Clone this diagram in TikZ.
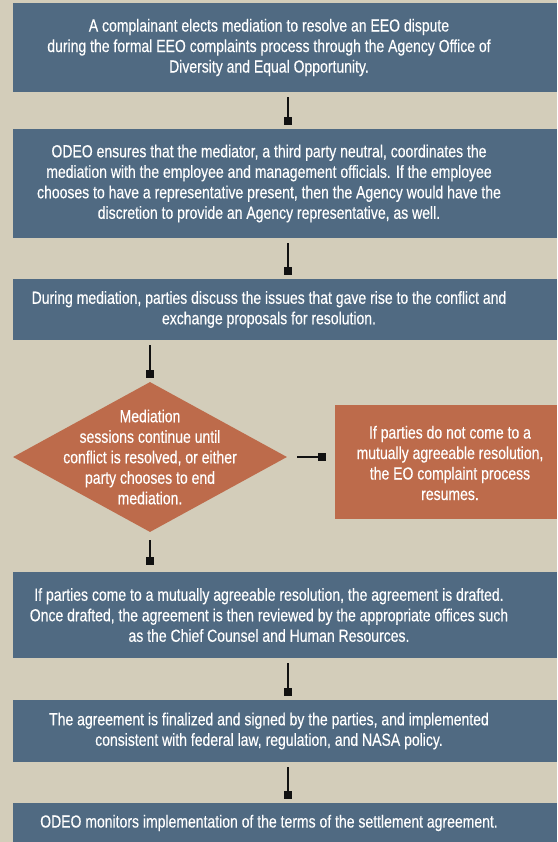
\documentclass[tikz,border=0pt]{standalone}
\usepackage{fontspec}
\setmainfont[FakeStretch=0.8,FakeBold=0.3]{Liberation Sans}
\usetikzlibrary{arrows.meta,shapes.geometric}
\definecolor{bg}{HTML}{D3CDBA}
\definecolor{blu}{HTML}{506A82}
\definecolor{org}{HTML}{BD6B4B}
\definecolor{ink}{HTML}{111111}
\begin{document}
\begin{tikzpicture}[x=1pt,y=-1pt,
  box/.style={fill=blu, minimum width=544pt, inner sep=0pt},
  txt/.style={text=white, align=center, inner sep=0pt, font=\fontsize{17.5}{20.5}\selectfont},
  btxt/.style={txt, xshift=-16pt},
  obox/.style={fill=org, minimum width=222pt, inner sep=0pt},
  conn/.style={line width=2pt, draw=ink, -{Square[length=8pt,width=8pt]}, shorten <=5pt, shorten >=4pt}]
\useasboundingbox[fill=bg] (0,0) rectangle (557,842);
\node[box, minimum height=89pt] (b1) at (285,47.5) {};
\node[btxt] (t1) at (b1.center) {A complainant elects mediation to resolve an EEO dispute\\during the formal EEO complaints process through the Agency Office of\\Diversity and Equal Opportunity.};
\node[box, minimum height=109pt] (b2) at (285,183.5) {};
\node[btxt] (t2) at (b2.center) {ODEO ensures that the mediator, a third party neutral, coordinates the\\mediation with the employee and management officials. If the employee\\chooses to have a representative present, then the Agency would have the\\discretion to provide an Agency representative, as well.};
\node[box, minimum height=61pt] (b3) at (285,309.5) {};
\node[btxt] (t3) at (b3.center) {During mediation, parties discuss the issues that gave rise to the conflict and\\exchange proposals for resolution.};
\node[diamond, fill=org, minimum width=274pt, minimum height=150pt, inner sep=0pt] (d) at (150,457) {};
\node[txt] (dt) at (d.center) {Mediation\\sessions continue until\\conflict is resolved, or either\\party chooses to end\\mediation.};
\node[obox, minimum height=114pt] (o) at (446,462) {};
\node[txt] (ot) at (450,463) {If parties do not come to a\\mutually agreeable resolution,\\the EO complaint process\\resumes.};
\node[box, minimum height=86pt] (b4) at (285,615) {};
\node[btxt] (t4) at (b4.center) {If parties come to a mutually agreeable resolution, the agreement is drafted.\\Once drafted, the agreement is then reviewed by the appropriate offices such\\as the Chief Counsel and Human Resources.};
\node[box, minimum height=62pt] (b5) at (285,731) {};
\node[btxt] (t5) at (b5.center) {The agreement is finalized and signed by the parties, and implemented\\consistent with federal law, regulation, and NASA policy.};
\node[box, minimum height=40pt] (b6) at (285,823) {};
\node[btxt] (t6) at (b6.center) {ODEO monitors implementation of the terms of the settlement agreement.};
\draw[conn] ([xshift=3pt]b1.south) -- ([xshift=3pt]b2.north);
\draw[conn] ([xshift=3pt]b2.south) -- ([xshift=3pt]b3.north);
\draw[conn] (b3.south -| d.north) -- (d.north);
\draw[conn, shorten <=10pt, shorten >=9pt] (d.east) -- (d.east -| o.west);
\draw[conn, shorten <=8pt, shorten >=7pt] (d.south) -- (d.south |- b4.north);
\draw[conn] ([xshift=3pt]b4.south) -- ([xshift=3pt]b5.north);
\draw[conn] ([xshift=3pt]b5.south) -- ([xshift=3pt]b6.north);
\end{tikzpicture}
\end{document}
